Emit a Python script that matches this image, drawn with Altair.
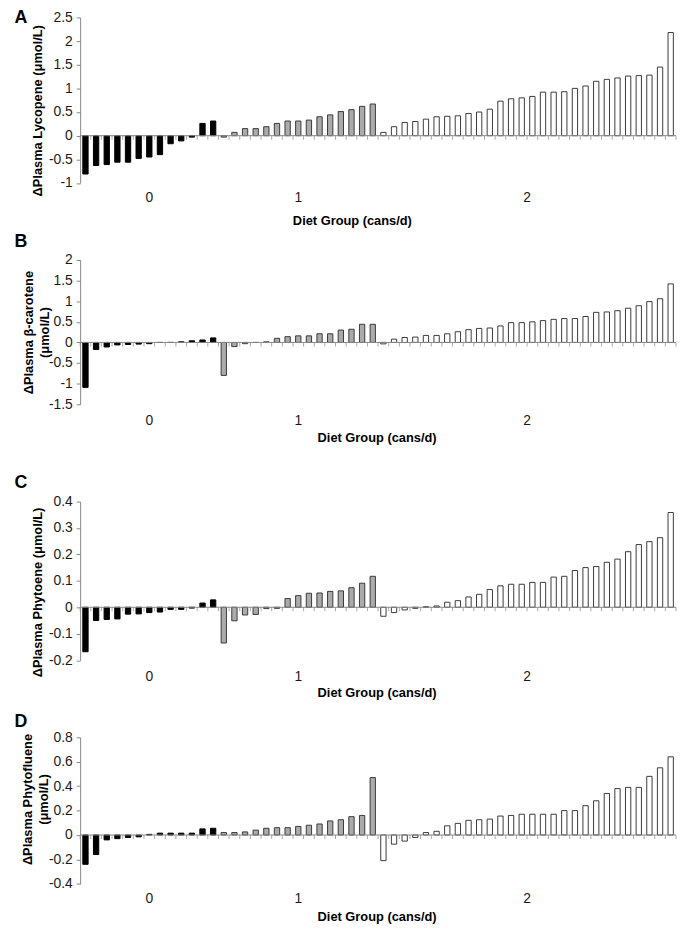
import altair as alt
import pandas as pd
import numpy as np

GROUPS = ["0", "1", "2"]
X_TITLE = "Diet Group (cans/d)"

# Panel A - lycopene
A_black = [-0.81, -0.63, -0.61, -0.56, -0.56, -0.48, -0.45, -0.40, -0.17, -0.11, -0.03, 0.26, 0.31]
A_gray = [-0.03, 0.07, 0.15, 0.15, 0.19, 0.26, 0.31, 0.31, 0.33, 0.40, 0.44, 0.51, 0.55, 0.62, 0.67]
A_white = [0.07, 0.19, 0.28, 0.30, 0.35, 0.40, 0.41, 0.42, 0.47, 0.50, 0.56, 0.73, 0.78, 0.80,
           0.83, 0.92, 0.92, 0.93, 1.00, 1.05, 1.15, 1.19, 1.22, 1.26, 1.27, 1.28, 1.45, 2.18]
A_ticks = [-1, -0.5, 0, 0.5, 1, 1.5, 2, 2.5]

# Panel B - beta-carotene
B_black = [-1.09, -0.17, -0.11, -0.06, -0.05, -0.04, -0.03, 0.0, 0.0, 0.015, 0.04, 0.06, 0.11]
B_gray = [-0.80, -0.10, -0.03, 0.0, 0.015, 0.10, 0.14, 0.16, 0.16, 0.21, 0.21, 0.30, 0.32, 0.44, 0.44]
B_white = [-0.035, 0.08, 0.12, 0.13, 0.17, 0.17, 0.21, 0.26, 0.31, 0.34, 0.35, 0.40, 0.48, 0.48,
           0.50, 0.53, 0.56, 0.58, 0.58, 0.63, 0.73, 0.74, 0.77, 0.83, 0.89, 0.99, 1.06, 1.42]
B_ticks = [-1.5, -1, -0.5, 0, 0.5, 1, 1.5, 2]

# Panel C - phytoene
C_black = [-0.168, -0.050, -0.046, -0.044, -0.026, -0.025, -0.020, -0.018, -0.008, -0.008, -0.003, 0.016, 0.028]
C_gray = [-0.135, -0.051, -0.029, -0.027, -0.005, -0.004, 0.033, 0.044, 0.053, 0.054, 0.060, 0.062,
          0.074, 0.091, 0.117]
C_white = [-0.034, -0.020, -0.010, -0.004, 0.002, 0.005, 0.019, 0.025, 0.039, 0.049, 0.067, 0.081,
           0.087, 0.087, 0.094, 0.094, 0.114, 0.117, 0.139, 0.150, 0.154, 0.170, 0.182, 0.210,
           0.237, 0.248, 0.263, 0.358]
C_ticks = [-0.2, -0.1, 0, 0.1, 0.2, 0.3, 0.4]

# Panel D - phytofluene
D_black = [-0.24, -0.16, -0.04, -0.03, -0.02, -0.015, 0.005, 0.015, 0.015, 0.015, 0.015, 0.05, 0.055]
D_gray = [0.02, 0.02, 0.025, 0.04, 0.055, 0.06, 0.06, 0.07, 0.08, 0.09, 0.115, 0.125, 0.15, 0.16, 0.47]
D_white = [-0.21, -0.075, -0.05, -0.02, 0.02, 0.03, 0.075, 0.095, 0.12, 0.125, 0.13, 0.155, 0.16,
           0.17, 0.17, 0.17, 0.17, 0.20, 0.20, 0.24, 0.28, 0.34, 0.38, 0.39, 0.39, 0.48, 0.55, 0.64]
D_ticks = [-0.4, -0.2, 0, 0.2, 0.4, 0.6, 0.8]

FONT = "Liberation Sans"
AXC = "#868686"
W = 603

panels = [
    dict(letter="A", title="ΔPlasma Lycopene (μmol/L)", data=[A_black, A_gray, A_white], ticks=A_ticks,
         h=167.6, extra=0, letter_y=0.5, tx=-43, ty=94, gl=15.7, xt_x=275.5, xt_y=38.7),
    dict(letter="B", title=["ΔPlasma β-carotene", "(μmol/L)"], data=[B_black, B_gray, B_white], ticks=B_ticks,
         h=146, extra=0, letter_y=-17.7, tx=-52.5, ty=73, gl=16.6, xt_x=300.5, xt_y=34),
    dict(letter="C", title="ΔPlasma Phytoene (μmol/L)", data=[C_black, C_gray, C_white], ticks=C_ticks,
         h=160.7, extra=20.8, letter_y=-19, tx=-43, ty=91.6, gl=16.6, xt_x=300.5, xt_y=33),
    dict(letter="D", title=["ΔPlasma Phytofluene", "(μmol/L)"], data=[D_black, D_gray, D_white], ticks=D_ticks,
         h=148.3, extra=0, letter_y=-15.5, tx=-53.5, ty=62.5, gl=15, xt_x=300.5, xt_y=33.5),
]


def make_panel(p):
    vals, grps = [], []
    for g, arr in zip(GROUPS, p["data"]):
        vals += list(arr)
        grps += [g] * len(arr)
    n = len(vals)
    df = pd.DataFrame({"i": np.arange(n), "v": vals, "g": grps, "z": 0.0})
    counts = [len(a) for a in p["data"]]
    starts = np.cumsum([0] + counts[:-1])
    lab = pd.DataFrame({"g": GROUPS, "c": [s + c / 2 for s, c in zip(starts, counts)]})
    bnd = pd.DataFrame({"b": np.arange(n + 1), "z": 0.0})
    zdf = pd.DataFrame({"z": [0.0]})

    H = p["h"]
    ex = p["extra"]
    VH = H + ex
    xs = alt.Scale(domain=[0, n], nice=False, zero=False)
    ys = alt.Scale(domain=[min(p["ticks"]), max(p["ticks"])], range=[VH, ex], nice=False, zero=False)

    yaxis = alt.Axis(values=p["ticks"], labelExpr="'' + datum.value", grid=False,
                     labelOverlap=False, labelFlush=False,
                     domainColor=AXC, tickColor=AXC, tickSize=4, labelPadding=4,
                     labelFont=FONT, labelFontSize=14, labelColor="#1a1a1a",
                     title=p["title"], titleFont=FONT, titleFontSize=13, titleFontWeight="bold",
                     titleColor="#000000", titleAngle=270, titleBaseline="middle", titleAlign="center",
                     titleLineHeight=16.5,
                     titleX=p["tx"], titleY=p["ty"] + ex)

    bars = alt.Chart(df).transform_calculate(
        x0="datum.i + 0.25", x1="datum.i + 0.75"
    ).mark_bar(strokeWidth=1).encode(
        x=alt.X("x0:Q", scale=xs, axis=None),
        x2="x1:Q",
        y=alt.Y("v:Q", scale=ys, axis=yaxis),
        y2="z:Q",
        fill=alt.Fill("g:N", scale=alt.Scale(domain=GROUPS, range=["#000000", "#ABABAB", "#FFFFFF"]), legend=None),
        stroke=alt.Stroke("g:N", scale=alt.Scale(domain=GROUPS, range=["#000000", "#3A3A3A", "#3A3A3A"]), legend=None),
    )

    zero = alt.Chart(zdf).mark_rule(color=AXC, strokeWidth=1).encode(
        y=alt.Y("z:Q", scale=ys, axis=yaxis), x=alt.value(0), x2=alt.value(W))

    ticks = alt.Chart(bnd).mark_tick(orient="vertical", size=4, thickness=1, yOffset=2, color=AXC).encode(
        x=alt.X("b:Q", scale=xs, axis=None), y=alt.Y("z:Q", scale=ys, axis=yaxis))

    glabels = alt.Chart(lab).mark_text(font=FONT, fontSize=14, color="#1a1a1a", baseline="middle").encode(
        x=alt.X("c:Q", scale=xs, axis=None), y=alt.value(VH + p["gl"]), text="g:N")

    xtitle = alt.Chart(pd.DataFrame({"t": [X_TITLE]})).mark_text(
        font=FONT, fontSize=13, fontWeight="bold", color="#000000", baseline="middle").encode(
        x=alt.value(p["xt_x"]), y=alt.value(VH + p["xt_y"]), text="t:N")

    letter = alt.Chart(pd.DataFrame({"t": [p["letter"]]})).mark_text(
        font=FONT, fontSize=18, fontWeight="bold", color="#000000", baseline="middle").encode(
        x=alt.value(-60), y=alt.value(ex + p["letter_y"]), text="t:N")

    return alt.layer(bars, zero, ticks, glabels, xtitle, letter).properties(width=W, height=VH)


chart = alt.vconcat(*[make_panel(p) for p in panels], spacing=77.5, bounds="flush").properties(
    padding={"left": 6, "top": -5, "right": 0, "bottom": 0}
).configure(font=FONT).configure_view(strokeWidth=0, stroke="transparent")

chart.save("out.html", embed_options={"renderer": "svg", "actions": False})
